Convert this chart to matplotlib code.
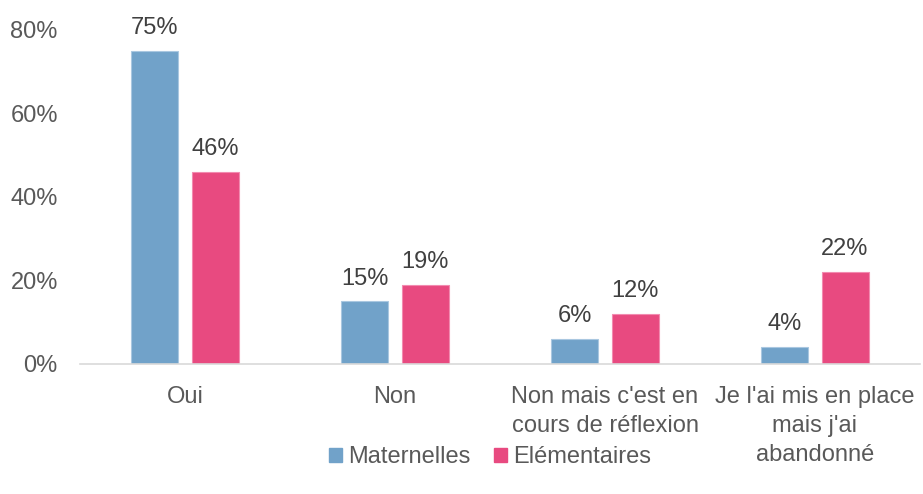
import matplotlib
matplotlib.use("Agg")
import matplotlib.pyplot as plt
import numpy as np
from matplotlib.patches import Patch

categories = ["Oui", "Non", "Non mais c'est en\ncours de réflexion",
              "Je l'ai mis en place\nmais j'ai\nabandonné"]
series_names = ["Maternelles", "Elémentaires"]
maternelles = [75, 15, 6, 4]
elementaires = [46, 19, 12, 22]
yticks = [0, 20, 40, 60, 80]

colors = ["#71a2c9", "#e84a80"]
edges = ["#a9c7e0", "#f28bb0"]

plt.rcParams['font.family'] = ['Liberation Sans', 'DejaVu Sans']
FS = 17

fig = plt.figure(figsize=(9.23, 4.94), dpi=100)
ax = fig.add_axes([80/923, 1-364/494, 840/923, 334/494])

x = np.arange(len(categories))
w = 0.224
off = 0.143
for vals, dx, c, ec, name in [(maternelles, -off, colors[0], edges[0], series_names[0]),
                              (elementaires, off, colors[1], edges[1], series_names[1])]:
    bars = ax.bar(x + dx, vals, width=w, color=c, edgecolor=ec, linewidth=0.8, label=name)
    for xi, v in zip(x + dx, vals):
        ax.annotate(f"{v}%", (xi, v), xytext=(0, 8.5), textcoords="offset points",
                    ha="center", va="bottom", fontsize=FS, color="#404040")

ax.set_xlim(-0.5, 3.5)
ax.set_ylim(0, 80)
ax.set_yticks(yticks)
ax.set_yticklabels([f"{t}%" for t in yticks], fontsize=FS, color="#595959")
ax.set_xticks(x)
ax.set_xticklabels(categories, fontsize=FS, color="#595959", linespacing=1.42)
ax.tick_params(axis="both", length=0)
ax.tick_params(axis="x", pad=15.5)
ax.tick_params(axis="y", pad=16)
for s in ["top", "right", "left"]:
    ax.spines[s].set_visible(False)
ax.spines["bottom"].set_color("#d9d9d9")
ax.spines["bottom"].set_linewidth(1.2)
ax.set_clip_on(False)

handles = [Patch(facecolor=colors[0], edgecolor=colors[0]),
           Patch(facecolor=colors[1], edgecolor=colors[1])]
leg = fig.legend(handles, series_names, loc="center", bbox_to_anchor=(490/923, 1-457/494),
                 ncol=2, frameon=False, fontsize=FS, handlelength=0.55, handleheight=0.55,
                 handletextpad=0.25, columnspacing=1.0, labelcolor="#595959")

fig.savefig("out.png", dpi=100)
